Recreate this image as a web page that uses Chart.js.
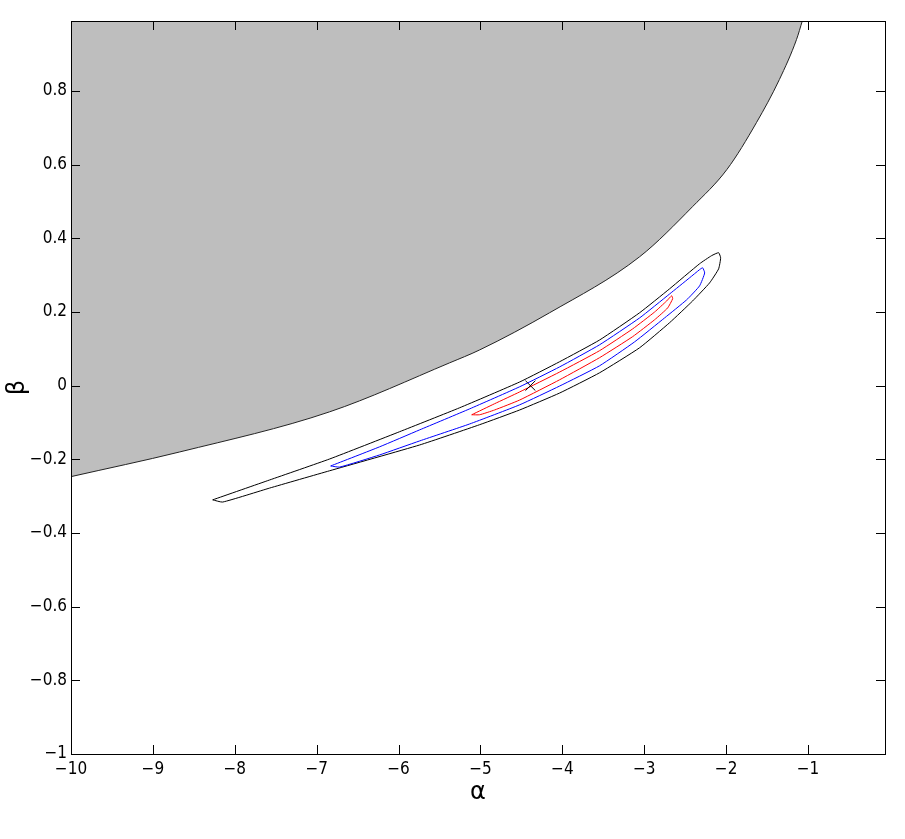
<!DOCTYPE html>
<html>
<head>
<meta charset="utf-8">
<script src="https://cdn.jsdelivr.net/npm/chart.js@4"></script>
<style>
  body { margin: 0; background: #fff; }
  #wrap { width: 905px; height: 839px; }
</style>
</head>
<body>
<div id="wrap"><canvas id="chart"></canvas></div>
<script>
// axis ticks
const xTicks = [-10, -9, -8, -7, -6, -5, -4, -3, -2, -1];
const xTickLabels = ['−10', '−9', '−8', '−7', '−6', '−5', '−4', '−3', '−2', '−1'];
const yTicks = [-1, -0.8, -0.6, -0.4, -0.2, 0, 0.2, 0.4, 0.6, 0.8];
const yTickLabels = ['−1', '−0.8', '−0.6', '−0.4', '−0.2', '0', '0.2', '0.4', '0.6', '0.8'];

// edge of the grey (excluded) region
const regionAlpha = [-10, -8.673, -6.841, -5.376, -5.01, -4.155, -3.056, -2.41, -1.99, -1.63, -1.35, -1.14, -1.07];
const regionBeta  = [-0.247, -0.180, -0.071, 0.062, 0.097, 0.198, 0.350, 0.486, 0.587, 0.714, 0.831, 0.94, 0.99];

// outer (black) contour
const blackAlpha = [-8.270, -7.574, -6.841, -5.987, -5.254, -4.521, -4.033, -3.545, -3.056, -2.690, -2.324, -2.177, -2.092,
                    -2.067, -2.092, -2.202, -2.409, -2.690, -3.056, -3.545, -4.033, -4.521, -5.010, -5.742, -6.841, -7.574, -8.148, -8.270];
const blackBeta  = [-0.310, -0.256, -0.199, -0.125, -0.060, 0.010, 0.065, 0.124, 0.198, 0.263, 0.331, 0.353, 0.361,
                    0.347, 0.317, 0.279, 0.230, 0.171, 0.103, 0.035, -0.020, -0.066, -0.106, -0.161, -0.231, -0.278, -0.316, -0.310];

// middle (blue) contour
const blueAlpha = [-6.829, -6.231, -5.742, -5.132, -4.521, -4.033, -3.545, -3.056, -2.690, -2.445, -2.324, -2.287,
                   -2.262, -2.324, -2.482, -2.751, -3.117, -3.545, -4.033, -4.521, -5.132, -5.742, -6.231, -6.719, -6.829];
const blueBeta  = [-0.218, -0.166, -0.120, -0.063, -0.003, 0.051, 0.111, 0.184, 0.249, 0.293, 0.315, 0.320,
                   0.306, 0.271, 0.233, 0.184, 0.119, 0.054, -0.001, -0.052, -0.104, -0.150, -0.188, -0.221, -0.218];

// inner (red) contour
const redAlpha = [-5.107, -4.827, -4.521, -4.033, -3.545, -3.142, -2.873, -2.726, -2.665,
                  -2.653, -2.714, -2.873, -3.142, -3.545, -4.033, -4.521, -4.827, -5.010, -5.107];
const redBeta  = [-0.079, -0.049, -0.017, 0.037, 0.095, 0.154, 0.200, 0.230, 0.244,
                  0.236, 0.211, 0.179, 0.133, 0.076, 0.016, -0.039, -0.066, -0.079, -0.079];

// best fit marker
const bestAlpha = [-4.39];
const bestBeta = [0.0];

const toPoints = (xs, ys) => xs.map((x, i) => ({ x: x, y: ys[i] }));

const tickFont = { family: "'Liberation Sans Narrow', 'DejaVu Sans Condensed', 'DejaVu Sans', sans-serif", size: 17 };
const titleFont = { family: "'DejaVu Sans', sans-serif", size: 24 };

// box + inward tick marks on all four sides
const framePlugin = {
  id: 'frame',
  afterDraw(chart) {
    const { ctx, chartArea: a, scales } = chart;
    ctx.save();
    ctx.strokeStyle = '#000';
    ctx.lineWidth = 1;
    ctx.beginPath();
    xTicks.forEach(v => {
      const px = Math.round(scales.x.getPixelForValue(v)) + 0.5;
      ctx.moveTo(px, a.bottom); ctx.lineTo(px, a.bottom - 9);
      ctx.moveTo(px, a.top); ctx.lineTo(px, a.top + 9);
    });
    yTicks.forEach(v => {
      const py = Math.round(scales.y.getPixelForValue(v)) + 0.5;
      ctx.moveTo(a.left, py); ctx.lineTo(a.left + 9, py);
      ctx.moveTo(a.right, py); ctx.lineTo(a.right - 9, py);
    });
    ctx.stroke();
    ctx.strokeRect(Math.round(a.left) + 0.5, Math.round(a.top) + 0.5, Math.round(a.right - a.left), Math.round(a.bottom - a.top));
    ctx.restore();
  }
};

const contour = (label, xs, ys, color) => ({
  label: label,
  data: toPoints(xs, ys),
  borderColor: color,
  borderWidth: 1,
  pointRadius: 0,
  tension: 0.15,
  fill: false
});

new Chart(document.getElementById('chart'), {
  type: 'line',
  data: {
    datasets: [
      {
        label: 'best',
        data: toPoints(bestAlpha, bestBeta),
        showLine: false,
        pointStyle: 'crossRot',
        pointRadius: 7,
        pointBorderColor: '#000',
        pointBorderWidth: 1
      },
      contour('red', redAlpha, redBeta, '#ff0000'),
      contour('blue', blueAlpha, blueBeta, '#0000ff'),
      contour('black', blackAlpha, blackBeta, '#000'),
      {
        label: 'region',
        data: toPoints(regionAlpha, regionBeta),
        borderColor: '#222',
        borderWidth: 1,
        backgroundColor: '#bebebe',
        pointRadius: 0,
        cubicInterpolationMode: 'monotone',
        fill: 'end'
      }
    ]
  },
  options: {
    responsive: true,
    maintainAspectRatio: false,
    animation: false,
    layout: { padding: { top: 21, right: 20, left: 0, bottom: 0 } },
    plugins: { legend: { display: false }, tooltip: { enabled: false } },
    scales: {
      x: {
        type: 'linear',
        min: -10,
        max: -0.06,
        afterBuildTicks: s => { s.ticks = xTicks.map(v => ({ value: v })); },
        afterFit: s => { s.height = 85; },
        grid: { display: false, drawTicks: false },
        border: { display: false },
        ticks: {
          color: '#000',
          font: tickFont,
          padding: 5,
          maxRotation: 0,
          autoSkip: false,
          callback: v => xTickLabels[xTicks.indexOf(v)]
        },
        title: { display: true, text: 'α', color: '#000', font: titleFont, padding: { top: 0, bottom: 32 } }
      },
      y: {
        type: 'linear',
        min: -1,
        max: 0.99,
        afterBuildTicks: s => { s.ticks = yTicks.map(v => ({ value: v })); },
        afterFit: s => { s.width = 71; },
        grid: { display: false, drawTicks: false },
        border: { display: false },
        ticks: {
          color: '#000',
          font: tickFont,
          padding: 4,
          autoSkip: false,
          callback: v => yTickLabels[yTicks.findIndex(t => Math.abs(t - v) < 1e-9)]
        },
        title: { display: true, text: 'β', color: '#000', font: titleFont, padding: { top: 3, bottom: 0 } }
      }
    }
  },
  plugins: [framePlugin]
});
</script>
</body>
</html>
